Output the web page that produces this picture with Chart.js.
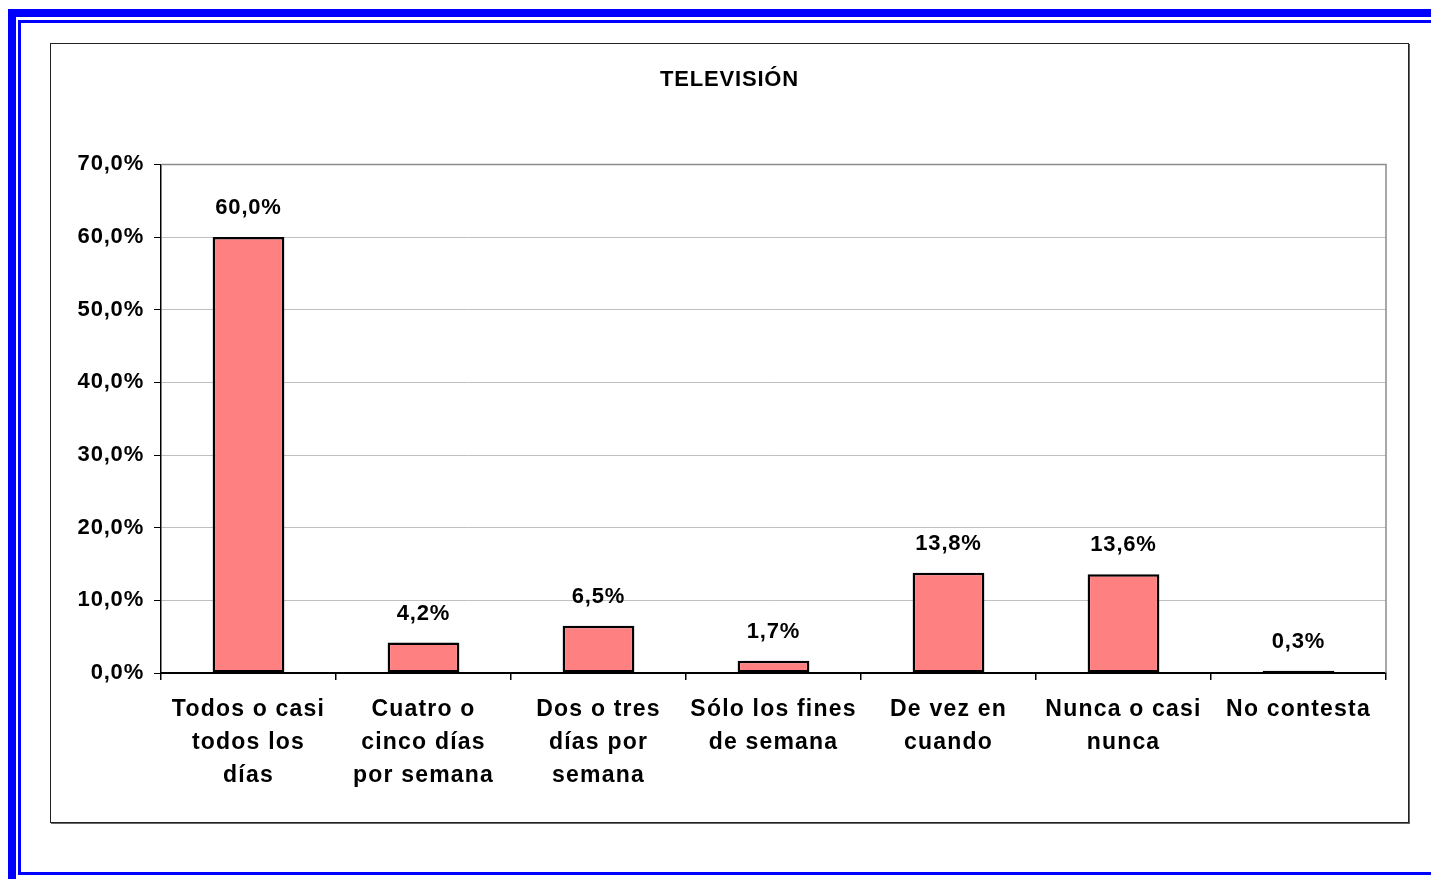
<!DOCTYPE html>
<html>
<head>
<meta charset="utf-8">
<script src="https://cdn.jsdelivr.net/npm/chart.js@4"></script>
<style>
  html, body { margin: 0; padding: 0; background: #fff; }
  body { width: 1431px; height: 879px; position: relative; overflow: hidden; font-family: "Liberation Sans", Arial, sans-serif; }
  .frame-outer { position: absolute; left: 8px; top: 9px; width: 1500px; height: 1000px; border: 8px solid #0000ff; box-sizing: border-box; }
  .frame-inner { position: absolute; left: 18px; top: 20px; width: 1500px; height: 855px; border: 3px solid #0000ff; border-right: none; box-sizing: border-box; }
  .box { position: absolute; left: 50px; top: 43px; width: 1359px; height: 780px; border: 1.5px solid #222; box-shadow: 1px 1px 0 #666; box-sizing: border-box; background: #fff; }
  .box canvas { position: absolute; left: 0; top: 0; }
</style>
</head>
<body>
<div class="frame-outer"></div>
<div class="frame-inner"></div>
<div class="box"><canvas id="chart" width="1357" height="778"></canvas></div>
<script>
const categories = [
  ['Todos o casi', 'todos los', 'días'],
  ['Cuatro o', 'cinco días', 'por semana'],
  ['Dos o tres', 'días por', 'semana'],
  ['Sólo los fines', 'de semana'],
  ['De vez en', 'cuando'],
  ['Nunca o casi', 'nunca'],
  ['No contesta']
];
const values = [60.0, 4.2, 6.5, 1.7, 13.8, 13.6, 0.3];
const chartTitle = 'TELEVISIÓN';
const yMax = 70;
const yStep = 10;

const FONT = '"Liberation Sans", Arial, sans-serif';
const pct = v => v.toFixed(1).replace('.', ',') + '%';

// value labels above the bars + letter spacing tweaks (old Excel look)
const labelsPlugin = {
  id: 'excelLook',
  beforeDraw(chart) {
    chart.ctx.letterSpacing = '0.8px';
  },
  beforeDatasetsDraw(chart) {
    const { ctx, chartArea: a } = chart;
    ctx.save();
    ctx.strokeStyle = '#8c8c8c';
    ctx.lineWidth = 1.5;
    ctx.beginPath();
    ctx.moveTo(a.left, a.top);
    ctx.lineTo(a.right, a.top);
    ctx.lineTo(a.right, a.bottom);
    ctx.stroke();
    ctx.restore();
  },
  afterDatasetsDraw(chart) {
    const { ctx } = chart;
    const meta = chart.getDatasetMeta(0);
    ctx.save();
    ctx.font = 'bold 22px ' + FONT;
    ctx.fillStyle = '#000';
    ctx.textAlign = 'center';
    ctx.textBaseline = 'middle';
    meta.data.forEach((bar, i) => {
      ctx.fillText(pct(values[i]), bar.x, bar.y - 29);
    });
    ctx.restore();
    ctx.letterSpacing = '1.2px';
  },
  afterDraw(chart) {
    chart.ctx.letterSpacing = '0px';
  }
};

new Chart(document.getElementById('chart'), {
  type: 'bar',
  data: {
    labels: categories,
    datasets: [{
      data: values,
      backgroundColor: '#ff8080',
      borderColor: '#000',
      borderWidth: 2.5,
      borderSkipped: false,
      categoryPercentage: 1,
      barPercentage: 0.41
    }]
  },
  options: {
    responsive: false,
    animation: false,
    layout: { padding: { left: 22, right: 22, top: 0, bottom: 0 } },
    plugins: {
      legend: { display: false },
      tooltip: { enabled: false },
      title: {
        display: true,
        text: chartTitle,
        color: '#000',
        font: { family: FONT, size: 22, weight: 'bold' },
        padding: { top: 23, bottom: 71 }
      }
    },
    scales: {
      x: {
        offset: true,
        grid: { display: true, drawOnChartArea: false, offset: true, tickLength: 7, tickColor: '#000', lineWidth: 1.5 },
        border: { display: true, color: '#000', width: 2 },
        ticks: {
          z: 1,
          color: '#000',
          autoSkip: false,
          maxRotation: 0,
          padding: 13,
          font: { family: FONT, size: 23, weight: 'bold', lineHeight: 33 / 23 }
        },
        afterFit(scale) { scale.height = 149; }
      },
      y: {
        min: 0,
        max: yMax,
        grid: { color: '#c0c0c0', lineWidth: 1, tickLength: 7, tickColor: '#000' },
        border: { display: true, color: '#000', width: 1.5 },
        ticks: {
          stepSize: yStep,
          color: '#000',
          padding: 10,
          font: { family: FONT, size: 22, weight: 'bold' },
          callback: v => pct(v)
        },
        afterFit(scale) { scale.width = 88; }
      }
    }
  },
  plugins: [labelsPlugin]
});
</script>
</body>
</html>
